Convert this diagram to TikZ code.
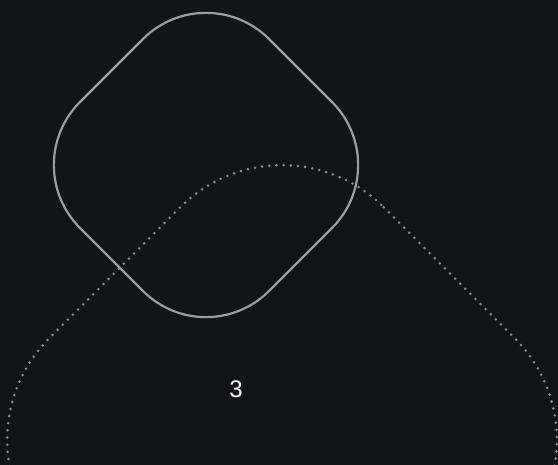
\documentclass[tikz,border=0pt]{standalone}
\usepackage{fontspec}
\setmainfont{Liberation Sans}
\definecolor{bgc}{HTML}{111418}
\definecolor{edgec}{HTML}{9A9EA3}
\definecolor{dotc}{HTML}{8C9196}
\tikzset{
  shapeline/.style={draw=edgec, line width=2.2pt, rounded corners=89pt},
  dotline/.style={draw=dotc, line width=2.8pt, line cap=round, dash pattern=on 0pt off 7.2pt, rounded corners=144pt},
  lbl/.style={text=white, font=\fontsize{24}{27}\selectfont, inner sep=0pt}
}
\begin{document}
\begin{tikzpicture}[x=1pt, y=-1pt]
\useasboundingbox (0,0) rectangle (558,465);
\fill[bgc] (0,0) rectangle (558,465);
\clip (0,0) rectangle (558,465);
% large dotted rounded diamond
\draw[dotline] (282,105.5) -- (616.5,440) -- (282,774.5) -- (-52.5,440) -- cycle;
% rounded diamond
\draw[shapeline] (206,-24) -- (395,165) -- (206,354) -- (17,165) -- cycle;
\node[lbl] (three) at (236,389) {3};
\end{tikzpicture}
\end{document}
